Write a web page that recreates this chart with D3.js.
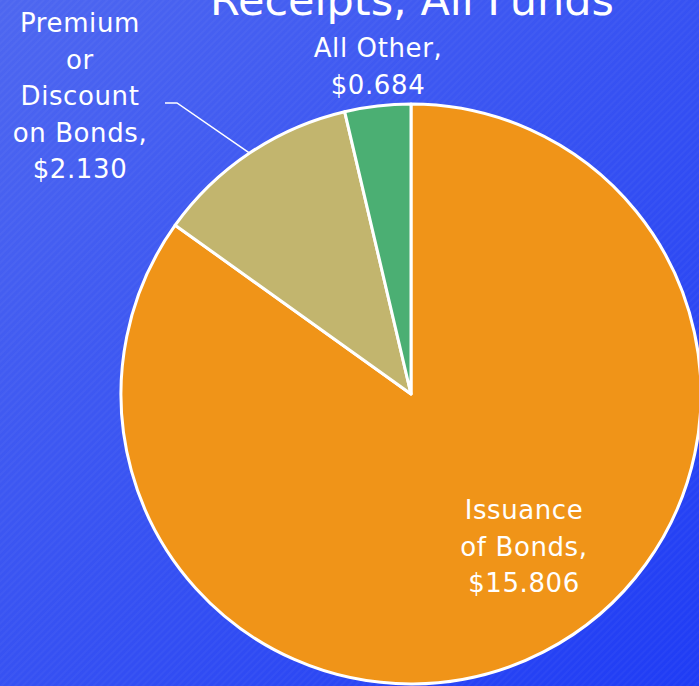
<!DOCTYPE html>
<html>
<head>
<meta charset="utf-8">
<script src="https://cdn.jsdelivr.net/npm/d3@7"></script>
<style>
  html, body { margin: 0; padding: 0; overflow: hidden; }
  svg { display: block; }
</style>
</head>
<body>
<svg></svg>
<script>
const w = 699;
const h = 686;

// chart data
const categories = ['Issuance of Bonds', 'Premium or Discount on Bonds', 'All Other'];
const values = [15.806, 2.13, 0.684];
const labelLines = [
  ['Issuance', 'of Bonds,', '$15.806'],
  ['Premium', 'or', 'Discount', 'on Bonds,', '$2.130'],
  ['All Other,', '$0.684']
];
const colors = ['#f09418', '#c2b56e', '#4baf73'];
const title = 'Receipts, All Funds';

const cx = 411;
const cy = 394;
const radius = 290;
const font = 'DejaVu Sans, sans-serif';

const svg = d3.select('svg').attr('width', w).attr('height', h);

// background gradient + faint diagonal stripes
const defs = svg.append('defs');
const grad = defs
  .append('linearGradient')
  .attr('id', 'bg')
  .attr('x1', '0%')
  .attr('y1', '0%')
  .attr('x2', '100%')
  .attr('y2', '100%');
grad.append('stop').attr('offset', '0%').attr('stop-color', '#4e67f0');
grad.append('stop').attr('offset', '100%').attr('stop-color', '#1f3cf5');

const stripes = defs
  .append('pattern')
  .attr('id', 'stripes')
  .attr('width', 5)
  .attr('height', 5)
  .attr('patternUnits', 'userSpaceOnUse')
  .attr('patternTransform', 'rotate(45)');
stripes
  .append('rect')
  .attr('width', 2)
  .attr('height', 5)
  .attr('fill', 'rgba(255,255,255,0.03)');

svg.append('rect').attr('width', w).attr('height', h).attr('fill', 'url(#bg)');
svg.append('rect').attr('width', w).attr('height', h).attr('fill', 'url(#stripes)');

// title (cut at the top like the slide)
svg
  .append('text')
  .attr('x', 412)
  .attr('y', 15)
  .attr('text-anchor', 'middle')
  .attr('fill', 'white')
  .style('font-family', font)
  .style('font-size', '43px')
  .text(title);

const pie = d3.pie().sort(null).value(d => d);
const arcs = pie(values);
const arc = d3.arc().innerRadius(0).outerRadius(radius);

const g = svg.append('g').attr('transform', `translate(${cx},${cy})`);

g.selectAll('path')
  .data(arcs)
  .enter()
  .append('path')
  .attr('d', arc)
  .attr('fill', (d, i) => colors[i])
  .attr('stroke', 'white')
  .attr('stroke-width', 3)
  .attr('stroke-linejoin', 'round');

// label anchors (first baseline)
const labelPlace = [
  { x: 524, y: 519 },
  { x: 80, y: 32 },
  { x: 378, y: 57 }
];
const lineH = 36.5;

labelLines.forEach((lines, i) => {
  const t = svg
    .append('text')
    .attr('text-anchor', 'middle')
    .attr('fill', 'white')
    .style('font-family', font)
    .style('font-size', '26px')
    .style('letter-spacing', '0.6px');
  lines.forEach((s, j) => {
    t.append('tspan')
      .attr('x', labelPlace[i].x)
      .attr('y', labelPlace[i].y + j * lineH)
      .text(s);
  });
});

// leader line for the premium label, ending on the slice edge at mid-angle
const prem = arcs[1];
const edgeAng = (prem.startAngle + prem.endAngle) / 2;
const ex = cx + radius * Math.sin(edgeAng);
const ey = cy - radius * Math.cos(edgeAng);
svg
  .append('path')
  .attr('d', `M165,103 L177,103 L${ex},${ey}`)
  .attr('fill', 'none')
  .attr('stroke', 'white')
  .attr('stroke-width', 1.5);
</script>
</body>
</html>
